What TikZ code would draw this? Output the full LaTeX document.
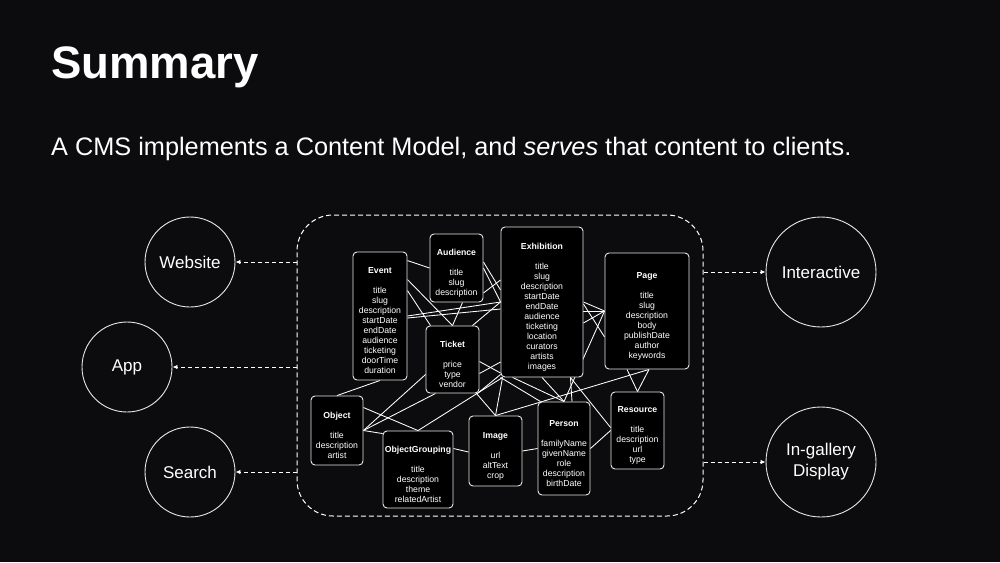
\documentclass[tikz,border=0pt]{standalone}
\usepackage{fontspec}
\setmainfont{Liberation Sans}
\usetikzlibrary{arrows.meta,calc}
\definecolor{bgcol}{RGB}{12,12,14}
\definecolor{edgecol}{RGB}{232,232,232}
\pgfdeclarelayer{bg}
\pgfdeclarelayer{lines}
\pgfsetlayers{bg,lines,main}
\newcommand\ehead[1]{\rule{0pt}{16pt}\textbf{#1}}
\begin{document}
\begin{tikzpicture}[x=1pt,y=-1pt,
  entity/.style={draw=edgecol, line width=0.9pt, fill=black, rounded corners=4pt,
    text=white, align=center, inner sep=0pt, font=\fontsize{8.7}{10}\selectfont},
  client/.style={circle, draw=edgecol, line width=0.9pt, text=white, inner sep=0pt,
    align=center, font=\fontsize{17}{21}\selectfont},
  link/.style={draw=white, line width=0.85pt},
  serve/.style={draw=white, dash pattern=on 4pt off 3pt, line width=0.9pt,
    -{Latex[length=5pt,width=4.5pt]}},
  container/.style={draw=white, dash pattern=on 5pt off 3pt, line width=1pt,
    rounded corners=36pt, inner sep=0pt}
]
\begin{pgfonlayer}{bg}
\fill[bgcol] (0,0) rectangle (1000,562);
\end{pgfonlayer}
\useasboundingbox (0,0) rectangle (1000,562);

% titles
\node[anchor=base west, inner sep=0pt, text=white, font=\fontsize{45.5}{52}\selectfont\bfseries] (title) at (51,78) {Summary};
\node[anchor=base west, inner sep=0pt, text=white, font=\fontsize{25.3}{30}\selectfont] (subtitle) at (51,155) {A CMS implements a Content Model, and \emph{serves} that content to clients.};

% container
\node[container, minimum width=406pt, minimum height=301pt] (cms) at (500,365.5) {};

% entities
\node[entity, minimum width=54pt, minimum height=128pt] (event) at (380,316)
  {\ehead{Event}\\[10pt]title\\slug\\description\\startDate\\endDate\\audience\\ticketing\\doorTime\\duration};
\node[entity, minimum width=53pt, minimum height=68pt] (audience) at (456.5,268)
  {\ehead{Audience}\\[10pt]title\\slug\\description};
\node[entity, minimum width=53pt, minimum height=67pt] (ticket) at (452.5,359.5)
  {\ehead{Ticket}\\[10pt]price\\type\\vendor};
\node[entity, minimum width=82pt, minimum height=150pt] (exhibition) at (542,302)
  {\ehead{Exhibition}\\[10pt]title\\slug\\description\\startDate\\endDate\\audience\\ticketing\\location\\curators\\artists\\images};
\node[entity, minimum width=84pt, minimum height=116pt] (page) at (647,311)
  {\ehead{Page}\\[10pt]title\\slug\\description\\body\\publishDate\\author\\keywords};
\node[entity, minimum width=52pt, minimum height=69pt] (object) at (337,430.5)
  {\ehead{Object}\\[10pt]title\\description\\artist};
\node[entity, minimum width=70pt, minimum height=77pt] (og) at (418,469.5)
  {\ehead{ObjectGrouping}\\[10pt]title\\description\\theme\\relatedArtist};
\node[entity, minimum width=53pt, minimum height=70pt] (image) at (495.5,451)
  {\ehead{Image}\\[10pt]url\\altText\\crop};
\node[entity, minimum width=52pt, minimum height=93pt] (person) at (564,448.5)
  {\ehead{Person}\\[10pt]familyName\\givenName\\role\\description\\birthDate};
\node[entity, minimum width=53pt, minimum height=77pt] (resource) at (637.5,430.5)
  {\ehead{Resource}\\[10pt]title\\description\\url\\type};

% clients
\node[client, minimum size=90pt] (website) at (190,262) {Website};
\node[client, minimum size=90pt] (app) at (127,367) {App};
\node[client, minimum size=90pt] (search) at (190,472) {Search};
\node[client, minimum size=110pt] (interactive) at (821,272) {Interactive};
\node[client, minimum size=110pt] (ingallery) at (821,462) {In-gallery\\Display};

% serving arrows
\draw[serve] (cms.west |- website) -- (website.east);
\draw[serve] (cms.west |- app) -- (app.east);
\draw[serve] (cms.west |- search) -- (search.east);
\draw[serve] (cms.east |- interactive) -- (interactive.west);
\draw[serve] (cms.east |- ingallery) -- (ingallery.west);

% content model links
\begin{pgfonlayer}{lines}
\draw[link] ($(event.north east)+(0,9)$) -- (audience.west);
\draw[link] ($(event.north east)+(0,28)$) -- (ticket.north);
\draw[link] ($(event.north east)+(0,39)$) -- ($(ticket.north west)+(5,0)$);
\draw[link] ($(audience.south)+(6,0)$) -- (ticket.north);
\draw[link] ($(ticket.north east)+(-7,0)$) -- (exhibition.west);
\draw[link] (event.east) -- (exhibition.west);
\draw[link] ($(event.east)+(0,2)$) -- ($(exhibition.west)+(0,7)$);
\draw[link] (audience.east) -- (exhibition.west);
\draw[link] ($(audience.east)+(0,-6)$) -- ($(exhibition.west)+(0,-12)$);
\draw[link] ($(audience.east)+(0,25)$) -- ($(exhibition.west)+(0,-22)$);
\draw[link] ($(ticket.east)+(0,2)$) -- ($(exhibition.west)+(0,71)$);
\draw[link] ($(ticket.east)+(0,14)$) -- ($(exhibition.west)+(0,60)$);
% exhibition - page
\draw[link] (exhibition.east) -- (page.west);
\draw[link] ($(exhibition.east)+(0,9)$) -- (page.west);
\draw[link] ($(exhibition.east)+(0,21)$) -- (page.west);
\draw[link] ($(exhibition.east)+(0,2)$) -- ($(page.west)+(0,26)$);
\draw[link] (page.west) -- (person.north);
% page bottom
\draw[link] ($(page.south)+(-20,0)$) -- (resource.north);
\draw[link] ($(page.south)+(2,0)$) -- (resource.north);
\draw[link] ($(page.south)+(2,0)$) -- (image.north);
% exhibition bottom
\draw[link] ($(exhibition.south west)+(2,0)$) -- (image.north);
\draw[link] ($(exhibition.south west)+(2,0)$) -- (og.north);
\draw[link] ($(ticket.south east)+(-3,0)$) -- (image.north);
\draw[link] ($(ticket.south east)+(-2,0)$) -- ($(exhibition.south west)+(0,-3)$);
\draw[link] ($(exhibition.south west)+(12,0)$) -- (person.north);
\draw[link] (exhibition.south) -- (person.north);
\draw[link] ($(exhibition.south east)+(-13,0)$) -- ($(person.north)+(8,0)$);
\draw[link] ($(exhibition.south east)+(-13,0)$) -- ($(resource.west)+(0,-3)$);
\draw[link] (exhibition.south west) -- ($(person.north west)+(3,0)$);
% lower row
\draw[link] ($(og.east)+(0,-21)$) -- ($(image.west)+(0,1)$);
\draw[link] (image.east) -- (person.west);
\draw[link] (person.east) -- (resource.west);
% object
\draw[link] (event.south) -- (object.north);
\draw[link] ($(object.east)+(0,-23)$) -- (og.north);
\draw[link] (object.east) -- ($(og.north west)+(0,3)$);
\draw[link] (object.east) -- ($(ticket.west)+(0,15)$);
\draw[link] (object.east) -- ($(ticket.south west)+(10,0)$);
\end{pgfonlayer}
\end{tikzpicture}
\end{document}
